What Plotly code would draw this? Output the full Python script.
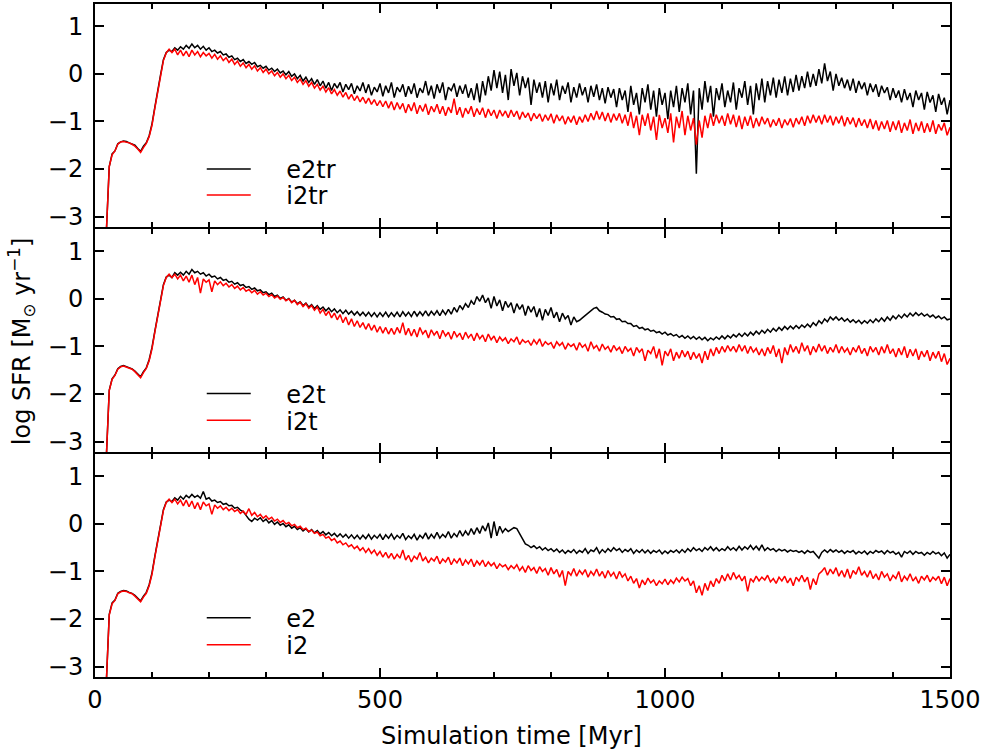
import plotly.graph_objects as go
from plotly.subplots import make_subplots

# Time grid (Myr), 5 Myr sampling
TIME_MYR = list(range(20, 1501, 5))

# log SFR values, one row per 100 Myr (20..115, 120..215, ...)
E2TR = [
    -3.3, -1.95, -1.68, -1.62, -1.47, -1.43, -1.41, -1.42, -1.45, -1.47, -1.50, -1.57, -1.63, -1.52, -1.45, -1.30, -1.05, -0.70, -0.40, -0.02,
    0.30, 0.45, 0.50, 0.47, 0.55, 0.50, 0.57, 0.52, 0.60, 0.54, 0.63, 0.55, 0.60, 0.52, 0.58, 0.50, 0.55, 0.47, 0.50, 0.44,
    0.47, 0.40, 0.42, 0.35, 0.38, 0.30, 0.33, 0.26, 0.30, 0.22, 0.26, 0.20, 0.24, 0.15, 0.18, 0.12, 0.16, 0.08, 0.12, 0.05,
    0.10, 0.02, 0.06, -0.02, 0.05, -0.05, 0.00, -0.10, -0.03, -0.15, -0.07, -0.18, -0.10, -0.22, -0.12, -0.25, -0.15, -0.30, -0.18, -0.35,
    -0.20, -0.30, -0.18, -0.38, -0.22, -0.33, -0.20, -0.42, -0.25, -0.36, -0.18, -0.40, -0.22, -0.45, -0.28, -0.38, -0.20, -0.47, -0.25, -0.40,
    -0.18, -0.50, -0.28, -0.38, -0.22, -0.48, -0.26, -0.42, -0.20, -0.50, -0.30, -0.40, -0.15, -0.45, -0.25, -0.52, -0.22, -0.40, -0.18, -0.55,
    -0.28, -0.35, -0.20, -0.48, -0.25, -0.42, -0.22, -0.50, -0.30, -0.55, -0.20, -0.60, -0.15, -0.45, -0.05, -0.35, 0.08, -0.30, 0.05, -0.40,
    -0.02, -0.55, 0.10, -0.25, 0.02, -0.45, -0.05, -0.30, -0.08, -0.65, -0.12, -0.40, -0.18, -0.50, -0.15, -0.60, -0.20, -0.45, -0.12, -0.55,
    -0.25, -0.42, -0.18, -0.60, -0.28, -0.50, -0.20, -0.45, -0.28, -0.60, -0.25, -0.48, -0.22, -0.55, -0.30, -0.62, -0.28, -0.50, -0.32, -0.70,
    -0.30, -0.55, -0.35, -0.80, -0.25, -0.65, -0.40, -0.85, -0.30, -0.60, -0.22, -0.75, -0.35, -0.90, -0.30, -0.65, -0.40, -0.95, -0.35, -0.70,
    -0.25, -0.80, -0.30, -0.60, -0.20, -0.85, -0.35, -2.10, -0.30, -0.75, -0.15, -0.60, -0.25, -0.90, -0.30, -0.55, -0.20, -0.70, -0.35, -0.60,
    -0.18, -0.75, -0.30, -0.50, -0.15, -0.65, -0.25, -0.85, -0.20, -0.55, -0.10, -0.60, -0.15, -0.45, -0.08, -0.50, -0.12, -0.40, -0.05, -0.45,
    -0.10, -0.38, -0.02, -0.35, -0.05, -0.30, 0.05, -0.28, 0.00, -0.25, 0.10, -0.20, 0.22, -0.15, 0.05, -0.35, 0.00, -0.25, -0.08, -0.30,
    -0.12, -0.35, -0.10, -0.40, -0.15, -0.32, -0.18, -0.45, -0.20, -0.38, -0.22, -0.48, -0.25, -0.40, -0.28, -0.55, -0.30, -0.50, -0.35, -0.60,
    -0.32, -0.55, -0.40, -0.70, -0.35, -0.55, -0.40, -0.75, -0.38, -0.60, -0.45, -0.80, -0.42, -0.65, -0.50, -0.85, -0.55,
]

I2TR = [
    -3.3, -1.95, -1.70, -1.62, -1.48, -1.43, -1.42, -1.43, -1.45, -1.48, -1.52, -1.58, -1.65, -1.55, -1.46, -1.32, -1.08, -0.72, -0.42, -0.05,
    0.28, 0.44, 0.52, 0.45, 0.52, 0.40, 0.50, 0.38, 0.48, 0.36, 0.50, 0.40, 0.47, 0.36, 0.45, 0.38, 0.43, 0.33, 0.41, 0.31,
    0.38, 0.28, 0.34, 0.24, 0.31, 0.20, 0.27, 0.16, 0.23, 0.13, 0.20, 0.10, 0.17, 0.06, 0.13, 0.03, 0.10, 0.00, 0.06, -0.04,
    0.03, -0.07, 0.00, -0.10, -0.03, -0.14, -0.07, -0.18, -0.11, -0.22, -0.14, -0.26, -0.18, -0.30, -0.22, -0.34, -0.26, -0.38, -0.29, -0.42,
    -0.33, -0.45, -0.36, -0.49, -0.39, -0.53, -0.43, -0.56, -0.46, -0.59, -0.49, -0.62, -0.51, -0.64, -0.54, -0.67, -0.56, -0.69, -0.57, -0.72,
    -0.58, -0.76, -0.60, -0.74, -0.62, -0.82, -0.64, -0.78, -0.60, -0.84, -0.66, -0.79, -0.63, -0.86, -0.68, -0.80, -0.64, -0.84, -0.68, -0.88,
    -0.70, -0.82, -0.52, -0.86, -0.70, -0.92, -0.72, -0.84, -0.68, -0.90, -0.73, -0.86, -0.71, -0.92, -0.74, -0.88, -0.76, -0.94, -0.76, -0.89,
    -0.78, -0.92, -0.76, -0.90, -0.78, -0.96, -0.80, -0.92, -0.82, -0.99, -0.83, -0.94, -0.84, -1.00, -0.86, -0.98, -0.84, -1.04, -0.86, -0.99,
    -0.88, -1.06, -0.90, -1.02, -0.88, -1.07, -0.90, -1.02, -0.86, -1.00, -0.83, -0.97, -0.78, -0.96, -0.80, -0.99, -0.82, -1.02, -0.84, -0.98,
    -0.83, -1.04, -0.86, -1.09, -0.80, -1.14, -0.88, -1.29, -0.86, -1.09, -0.83, -1.19, -0.90, -1.39, -0.86, -1.14, -0.93, -1.24, -0.83, -1.44,
    -0.90, -1.14, -0.78, -1.29, -0.88, -1.19, -0.93, -1.49, -0.98, -1.34, -0.88, -1.14, -0.83, -1.09, -0.86, -1.04, -0.88, -1.09, -0.83, -1.06,
    -0.86, -1.12, -0.88, -1.16, -0.90, -1.09, -0.88, -1.14, -0.93, -1.10, -0.90, -1.06, -0.93, -1.12, -0.96, -1.09, -0.93, -1.14, -0.96, -1.08,
    -0.94, -1.12, -0.93, -1.06, -0.90, -1.09, -0.88, -1.04, -0.86, -1.02, -0.88, -1.06, -0.86, -1.02, -0.88, -1.08, -0.90, -1.04, -0.88, -1.10,
    -0.91, -1.06, -0.92, -1.12, -0.93, -1.09, -0.96, -1.14, -0.95, -1.16, -0.98, -1.19, -1.00, -1.16, -0.98, -1.22, -1.00, -1.18, -0.98, -1.24,
    -1.03, -1.19, -0.96, -1.26, -1.03, -1.20, -1.00, -1.24, -1.04, -1.22, -0.98, -1.26, -1.06, -1.19, -1.03, -1.29, -1.12,
]

E2T = [
    -3.3, -1.92, -1.68, -1.60, -1.47, -1.42, -1.40, -1.42, -1.44, -1.47, -1.52, -1.58, -1.64, -1.53, -1.45, -1.28, -1.02, -0.68, -0.38, 0.00,
    0.30, 0.46, 0.50, 0.45, 0.55, 0.50, 0.56, 0.50, 0.58, 0.52, 0.62, 0.55, 0.58, 0.52, 0.55, 0.48, 0.52, 0.46, 0.48, 0.42,
    0.45, 0.39, 0.41, 0.35, 0.37, 0.31, 0.34, 0.28, 0.30, 0.24, 0.26, 0.20, 0.23, 0.17, 0.19, 0.13, 0.15, 0.09, 0.12, 0.05,
    0.08, 0.01, 0.04, -0.03, 0.01, -0.07, -0.03, -0.10, -0.06, -0.14, -0.09, -0.17, -0.12, -0.20, -0.14, -0.22, -0.17, -0.25, -0.19, -0.27,
    -0.21, -0.29, -0.23, -0.31, -0.24, -0.32, -0.26, -0.34, -0.27, -0.35, -0.28, -0.36, -0.28, -0.37, -0.29, -0.38, -0.29, -0.37, -0.28, -0.38,
    -0.29, -0.37, -0.28, -0.38, -0.27, -0.36, -0.28, -0.37, -0.26, -0.36, -0.27, -0.35, -0.25, -0.36, -0.26, -0.34, -0.25, -0.35, -0.24, -0.33,
    -0.22, -0.32, -0.18, -0.28, -0.14, -0.22, -0.10, -0.18, -0.04, -0.12, 0.05, -0.05, 0.08, -0.08, 0.02, -0.20, 0.05, -0.15, -0.02, -0.25,
    -0.05, -0.18, -0.08, -0.30, -0.10, -0.22, -0.12, -0.35, -0.15, -0.28, -0.16, -0.38, -0.20, -0.45, -0.22, -0.35, -0.18, -0.40, -0.28, -0.48,
    -0.30, -0.42, -0.35, -0.55, -0.38, -0.48, -0.45, -0.40, -0.35, -0.28, -0.25, -0.20, -0.18, -0.25, -0.28, -0.32, -0.33, -0.38, -0.37, -0.43,
    -0.42, -0.48, -0.47, -0.52, -0.52, -0.58, -0.56, -0.62, -0.60, -0.65, -0.63, -0.68, -0.66, -0.71, -0.69, -0.74, -0.70, -0.76, -0.73, -0.78,
    -0.75, -0.81, -0.77, -0.83, -0.78, -0.84, -0.79, -0.85, -0.80, -0.86, -0.81, -0.88, -0.82, -0.86, -0.80, -0.85, -0.78, -0.84, -0.77, -0.82,
    -0.75, -0.80, -0.73, -0.79, -0.72, -0.78, -0.70, -0.76, -0.68, -0.74, -0.66, -0.72, -0.64, -0.70, -0.62, -0.68, -0.60, -0.66, -0.58, -0.64,
    -0.57, -0.63, -0.56, -0.62, -0.55, -0.60, -0.53, -0.59, -0.50, -0.56, -0.46, -0.52, -0.42, -0.48, -0.38, -0.44, -0.38, -0.45, -0.40, -0.47,
    -0.42, -0.49, -0.44, -0.50, -0.45, -0.52, -0.46, -0.51, -0.44, -0.50, -0.42, -0.48, -0.40, -0.47, -0.38, -0.45, -0.36, -0.42, -0.34, -0.40,
    -0.32, -0.38, -0.30, -0.36, -0.29, -0.35, -0.30, -0.36, -0.32, -0.38, -0.34, -0.40, -0.36, -0.42, -0.38, -0.44, -0.42,
]

I2T = [
    -3.3, -1.93, -1.69, -1.61, -1.48, -1.43, -1.41, -1.43, -1.45, -1.48, -1.53, -1.60, -1.66, -1.55, -1.46, -1.30, -1.05, -0.70, -0.40, -0.03,
    0.28, 0.45, 0.52, 0.45, 0.52, 0.42, 0.50, 0.38, 0.48, 0.35, 0.50, 0.30, 0.45, 0.12, 0.42, 0.35, 0.40, 0.15, 0.38, 0.30,
    0.36, 0.28, 0.33, 0.25, 0.30, 0.22, 0.27, 0.19, 0.24, 0.16, 0.20, 0.13, 0.18, 0.10, 0.15, 0.08, 0.12, 0.05, 0.09, 0.02,
    0.06, -0.01, 0.03, -0.04, 0.00, -0.08, -0.03, -0.12, -0.07, -0.16, -0.10, -0.20, -0.14, -0.24, -0.17, -0.30, -0.22, -0.35, -0.26, -0.40,
    -0.30, -0.44, -0.33, -0.50, -0.38, -0.55, -0.42, -0.58, -0.46, -0.60, -0.50, -0.64, -0.52, -0.66, -0.55, -0.70, -0.58, -0.72, -0.60, -0.74,
    -0.62, -0.75, -0.60, -0.72, -0.50, -0.76, -0.62, -0.78, -0.64, -0.80, -0.60, -0.74, -0.66, -0.82, -0.65, -0.76, -0.68, -0.84, -0.66, -0.78,
    -0.70, -0.85, -0.68, -0.80, -0.72, -0.86, -0.70, -0.82, -0.74, -0.88, -0.72, -0.84, -0.76, -0.90, -0.74, -0.86, -0.78, -0.92, -0.80, -0.88,
    -0.82, -0.94, -0.84, -0.90, -0.80, -0.96, -0.86, -0.92, -0.88, -0.98, -0.86, -0.95, -0.84, -1.00, -0.90, -0.96, -0.92, -1.04, -0.90, -0.98,
    -0.92, -1.06, -0.94, -1.00, -0.95, -1.08, -0.92, -1.02, -0.96, -1.10, -0.90, -1.04, -0.98, -1.10, -0.95, -1.06, -1.00, -1.12, -0.98, -1.08,
    -1.02, -1.15, -1.00, -1.10, -1.04, -1.20, -1.02, -1.12, -1.05, -1.30, -1.08, -1.15, -1.00, -1.25, -1.05, -1.40, -1.10, -1.20, -1.05, -1.30,
    -1.12, -1.25, -1.08, -1.22, -1.10, -1.28, -1.12, -1.25, -1.15, -1.35, -1.10, -1.28, -1.05, -1.20, -1.02, -1.15, -1.00, -1.12, -0.98, -1.10,
    -1.00, -1.12, -0.96, -1.10, -0.98, -1.15, -1.00, -1.12, -1.04, -1.18, -1.05, -1.20, -1.02, -1.15, -0.98, -1.22, -1.05, -1.35, -1.02, -1.18,
    -0.96, -1.12, -1.00, -1.15, -0.92, -1.10, -0.98, -1.18, -1.00, -1.12, -0.95, -1.10, -0.98, -1.15, -1.02, -1.12, -0.96, -1.14, -1.00, -1.12,
    -1.04, -1.18, -1.02, -1.12, -0.98, -1.15, -1.04, -1.20, -1.00, -1.12, -1.02, -1.18, -1.00, -1.14, -0.96, -1.15, -1.05, -1.22, -1.04, -1.18,
    -1.00, -1.24, -1.06, -1.20, -1.05, -1.28, -1.10, -1.22, -1.08, -1.30, -1.12, -1.25, -1.10, -1.32, -1.15, -1.38, -1.25,
]

E2 = [
    -3.3, -1.90, -1.66, -1.60, -1.46, -1.42, -1.40, -1.41, -1.44, -1.46, -1.50, -1.56, -1.62, -1.52, -1.44, -1.28, -1.03, -0.68, -0.38, 0.00,
    0.30, 0.46, 0.50, 0.47, 0.55, 0.50, 0.58, 0.52, 0.60, 0.55, 0.62, 0.56, 0.60, 0.54, 0.68, 0.52, 0.55, 0.48, 0.50, 0.45,
    0.47, 0.41, 0.43, 0.38, 0.39, 0.33, 0.35, 0.29, 0.26, 0.18, 0.10, 0.05, 0.12, 0.08, 0.13, 0.05, 0.10, 0.02, 0.07, -0.01,
    0.04, -0.03, 0.01, -0.06, -0.02, -0.09, -0.05, -0.12, -0.08, -0.15, -0.10, -0.17, -0.12, -0.19, -0.14, -0.21, -0.16, -0.23, -0.18, -0.25,
    -0.20, -0.27, -0.21, -0.28, -0.22, -0.30, -0.23, -0.31, -0.24, -0.32, -0.24, -0.31, -0.22, -0.32, -0.24, -0.30, -0.22, -0.33, -0.23, -0.30,
    -0.21, -0.32, -0.24, -0.30, -0.20, -0.33, -0.25, -0.31, -0.22, -0.34, -0.24, -0.30, -0.19, -0.32, -0.22, -0.30, -0.18, -0.30, -0.22, -0.28,
    -0.16, -0.30, -0.20, -0.27, -0.14, -0.26, -0.15, -0.24, -0.10, -0.22, -0.08, -0.20, -0.04, -0.15, 0.02, -0.30, 0.05, -0.25, -0.05, -0.18,
    -0.10, -0.16, -0.12, -0.08, -0.10, -0.20, -0.32, -0.42, -0.45, -0.50, -0.46, -0.52, -0.48, -0.55, -0.50, -0.56, -0.52, -0.58, -0.53, -0.60,
    -0.55, -0.62, -0.56, -0.60, -0.54, -0.62, -0.56, -0.60, -0.52, -0.62, -0.55, -0.58, -0.50, -0.62, -0.54, -0.60, -0.52, -0.58, -0.50, -0.56,
    -0.52, -0.60, -0.54, -0.58, -0.52, -0.62, -0.55, -0.60, -0.54, -0.61, -0.55, -0.62, -0.56, -0.60, -0.55, -0.63, -0.57, -0.62, -0.56, -0.60,
    -0.55, -0.61, -0.54, -0.60, -0.52, -0.58, -0.50, -0.56, -0.52, -0.58, -0.50, -0.55, -0.48, -0.56, -0.50, -0.57, -0.52, -0.56, -0.48, -0.55,
    -0.50, -0.56, -0.47, -0.55, -0.48, -0.53, -0.45, -0.54, -0.47, -0.55, -0.44, -0.56, -0.50, -0.55, -0.52, -0.58, -0.53, -0.57, -0.54, -0.59,
    -0.55, -0.58, -0.56, -0.60, -0.57, -0.62, -0.56, -0.60, -0.58, -0.65, -0.72, -0.60, -0.55, -0.60, -0.54, -0.59, -0.55, -0.60, -0.56, -0.62,
    -0.57, -0.60, -0.56, -0.63, -0.58, -0.62, -0.57, -0.64, -0.58, -0.62, -0.56, -0.60, -0.57, -0.63, -0.56, -0.61, -0.58, -0.64, -0.60, -0.70,
    -0.58, -0.62, -0.57, -0.64, -0.58, -0.62, -0.60, -0.66, -0.60, -0.64, -0.58, -0.63, -0.60, -0.67, -0.61, -0.72, -0.64,
]

I2 = [
    -3.3, -1.92, -1.68, -1.61, -1.47, -1.43, -1.41, -1.42, -1.45, -1.47, -1.52, -1.58, -1.64, -1.54, -1.46, -1.30, -1.06, -0.70, -0.40, -0.03,
    0.28, 0.45, 0.52, 0.45, 0.52, 0.42, 0.50, 0.38, 0.50, 0.36, 0.48, 0.32, 0.45, 0.30, 0.46, 0.38, 0.42, 0.20, 0.40, 0.33,
    0.38, 0.30, 0.35, 0.28, 0.33, 0.26, 0.30, 0.22, 0.27, 0.20, 0.32, 0.18, 0.24, 0.15, 0.20, 0.12, 0.17, 0.10, 0.14, 0.06,
    0.10, 0.03, 0.07, 0.00, 0.03, -0.04, -0.01, -0.08, -0.05, -0.12, -0.09, -0.16, -0.13, -0.20, -0.17, -0.25, -0.22, -0.30, -0.27, -0.35,
    -0.31, -0.40, -0.36, -0.44, -0.40, -0.48, -0.44, -0.52, -0.47, -0.56, -0.50, -0.60, -0.52, -0.62, -0.55, -0.66, -0.58, -0.70, -0.60, -0.72,
    -0.62, -0.74, -0.64, -0.72, -0.55, -0.76, -0.66, -0.80, -0.68, -0.74, -0.60, -0.78, -0.70, -0.82, -0.72, -0.78, -0.68, -0.84, -0.74, -0.80,
    -0.70, -0.86, -0.74, -0.82, -0.72, -0.88, -0.76, -0.84, -0.74, -0.90, -0.78, -0.86, -0.76, -0.90, -0.80, -0.88, -0.82, -0.94, -0.84, -0.90,
    -0.86, -0.96, -0.88, -0.94, -0.86, -0.98, -0.90, -1.02, -0.88, -0.98, -0.92, -1.04, -0.90, -1.00, -0.94, -1.08, -0.92, -1.05, -0.96, -1.12,
    -0.98, -1.30, -1.00, -1.08, -0.94, -1.10, -0.98, -1.06, -0.96, -1.12, -1.00, -1.08, -0.95, -1.10, -1.00, -1.14, -0.98, -1.10, -1.02, -1.16,
    -1.00, -1.12, -1.05, -1.20, -1.10, -1.25, -1.15, -1.35, -1.18, -1.28, -1.14, -1.24, -1.18, -1.30, -1.20, -1.26, -1.16, -1.28, -1.18, -1.25,
    -1.14, -1.22, -1.12, -1.20, -1.15, -1.30, -1.20, -1.45, -1.30, -1.50, -1.25, -1.40, -1.20, -1.32, -1.15, -1.25, -1.08, -1.20, -1.05, -1.18,
    -1.02, -1.15, -1.08, -1.20, -1.10, -1.42, -1.15, -1.22, -1.10, -1.20, -1.12, -1.18, -1.08, -1.22, -1.15, -1.25, -1.12, -1.20, -1.10, -1.24,
    -1.14, -1.30, -1.12, -1.20, -1.08, -1.22, -1.12, -1.38, -1.15, -1.28, -1.05, -1.00, -0.92, -1.08, -0.95, -1.05, -0.92, -1.10, -0.98, -1.12,
    -0.95, -1.15, -0.98, -1.06, -0.90, -1.08, -1.00, -1.12, -0.98, -1.15, -1.05, -1.18, -1.00, -1.12, -1.05, -1.20, -1.08, -1.15, -1.00, -1.22,
    -1.10, -1.18, -1.05, -1.20, -1.12, -1.25, -1.10, -1.18, -1.08, -1.22, -1.12, -1.18, -1.10, -1.26, -1.12, -1.30, -1.15,
]

PANELS = [  # (row, black name, black values, red name, red values)
    (1, "e2tr", E2TR, "i2tr", I2TR),
    (2, "e2t", E2T, "i2t", I2T),
    (3, "e2", E2, "i2", I2),
]

X_RANGE = [0, 1500]
Y_RANGE = [-3.22, 1.47]
X_TITLE = "Simulation time [Myr]"
Y_TITLE = "log SFR [M<sub>\u2299</sub> yr<sup>\u22121</sup>]"

FONT = "DejaVu Sans"
FS = 24
LW_AX = 2

# plot-area geometry in pixels
W, H = 983, 754
ML, MR, MT, MB = 95, 31, 2, 77
PH = H - MT - MB
GAP = LW_AX / PH                 # so that neighbouring frame lines coincide
PANEL_H = (1 - 2 * GAP) / 3
DOMAINS = {
    1: [2 * PANEL_H + 2 * GAP, 1.0],
    2: [PANEL_H + GAP, 2 * PANEL_H + GAP],
    3: [0.0, PANEL_H],
}


def paper_y(py):
    return (H - MB - py) / PH


fig = make_subplots(rows=3, cols=1, shared_xaxes=True, vertical_spacing=0)

legend_rows_px = {1: (168, 194), 2: (393, 420), 3: (618, 645)}
PAD = "\u00a0\u00a0\u00a0\u00a0"
li = 1
layout_legends = {}
for row, bname, bvals, rname, rvals in PANELS:
    for name, vals, color, py in ((bname, bvals, "#000000", legend_rows_px[row][0]),
                                  (rname, rvals, "#ff0000", legend_rows_px[row][1])):
        key = "legend" if li == 1 else f"legend{li}"
        fig.add_trace(
            go.Scatter(
                x=TIME_MYR[:len(vals)], y=vals, mode="lines", name=PAD + name,
                line=dict(color=color, width=1.5), legend=key,
            ),
            row=row, col=1,
        )
        layout_legends[key] = dict(
            x=(202 - ML) / (W - ML - MR), y=paper_y(py), xanchor="left", yanchor="middle",
            bgcolor="rgba(0,0,0,0)", borderwidth=0, font=dict(family=FONT, size=FS, color="black"),
            itemwidth=44,
        )
        li += 1

axis_common = dict(
    showline=True, linecolor="black", linewidth=LW_AX, mirror="ticks", ticks="inside",
    tickcolor="black", tickwidth=1.5, showgrid=False, zeroline=False,
    tickfont=dict(family=FONT, size=FS, color="black"),
)

for r in (1, 2, 3):
    fig.update_xaxes(
        range=X_RANGE, tick0=0, dtick=500, ticklen=9,
        minor=dict(dtick=100, ticklen=5, ticks="inside", tickcolor="black", tickwidth=1.5),
        showticklabels=(r == 3), ticklabelstandoff=0,
        row=r, col=1, **axis_common,
    )
    fig.update_yaxes(
        range=Y_RANGE, tick0=0, dtick=1, ticklen=9, ticklabelstandoff=5,
        domain=DOMAINS[r],
        row=r, col=1, **axis_common,
    )

fig.update_layout(
    width=W, height=H,
    margin=dict(l=ML, r=MR, t=MT, b=MB, pad=0),
    paper_bgcolor="white", plot_bgcolor="white",
    font=dict(family=FONT, size=FS, color="black"),
    showlegend=True,
    annotations=[
        dict(text=X_TITLE, xref="paper", yref="paper", x=(512 - ML) / (W - ML - MR),
             y=paper_y(736), xanchor="center", yanchor="middle", showarrow=False,
             font=dict(family=FONT, size=FS, color="black")),
        dict(text=Y_TITLE, xref="paper", yref="paper", x=(22 - ML) / (W - ML - MR),
             y=paper_y(340), xanchor="center", yanchor="middle", textangle=-90, showarrow=False,
             font=dict(family=FONT, size=FS, color="black")),
    ],
    **layout_legends,
)

fig.write_html("out.html")
